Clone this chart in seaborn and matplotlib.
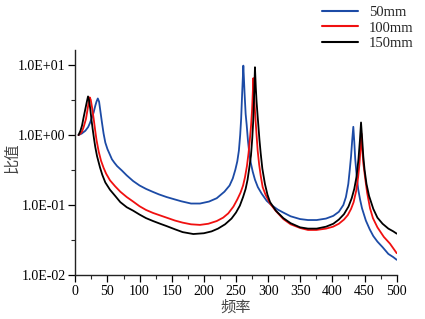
import numpy as np
import pandas as pd
import matplotlib
matplotlib.use("Agg")
import matplotlib.pyplot as plt
import seaborn as sns
from matplotlib.ticker import FixedLocator, FuncFormatter, MultipleLocator

# ---- data ----
series_names = ["50mm", "100mm", "150mm"]
series_colors = ["#1c4ba6", "#f01010", "#000000"]

f_50 = [5, 10, 15.6, 20, 23, 26, 28.5, 31, 33, 35, 37, 39, 41.5, 44, 46.7, 50, 54, 57, 61, 65,
        72.6, 80, 90, 100, 110, 120, 130, 142, 155, 165, 180, 194, 208, 220, 232, 240, 245,
        249, 252, 254.5, 256.5, 258, 259.6, 260.6, 261.4, 262.3, 263.3, 265, 266.6, 268.5,
        270.7, 273, 276, 279.5, 284, 290, 297.7, 305, 315, 323.6, 335, 349.6, 362, 375.5,
        390, 401.4, 410, 417, 421, 424.7, 427, 429, 430.8, 432.5, 434, 435.5, 437.6, 440,
        443, 446, 452, 458, 463.6, 470, 478, 487, 494.7, 500]
v_50 = [1.0, 1.05, 1.15, 1.3, 1.5, 1.8, 2.1, 2.6, 3.0, 3.33, 3.0, 2.2, 1.5, 1.05, 0.78, 0.63,
        0.52, 0.45, 0.4, 0.36, 0.31, 0.265, 0.22, 0.19, 0.17, 0.155, 0.142, 0.13, 0.12,
        0.113, 0.105, 0.105, 0.112, 0.125, 0.155, 0.19, 0.24, 0.32, 0.42, 0.6, 1.0, 1.7,
        4.0, 6.5, 9.8, 6.5, 4.0, 2.0, 1.4, 0.85, 0.55, 0.4, 0.3, 0.23, 0.18, 0.145, 0.115,
        0.1, 0.086, 0.078, 0.069, 0.063, 0.061, 0.061, 0.064, 0.07, 0.08, 0.1, 0.13, 0.2,
        0.32, 0.5, 0.85, 1.31, 0.8, 0.45, 0.27, 0.17, 0.12, 0.09, 0.06, 0.045, 0.036, 0.03,
        0.025, 0.02, 0.018, 0.0165]

f_100 = [5, 8, 10.4, 13, 16.6, 19, 21, 22.4, 24, 26, 28.6, 31, 33, 36.4, 40, 44, 48, 54, 62,
         70, 80, 90, 100, 110, 121, 132, 142, 155, 167, 180, 194, 207, 220, 230, 238, 246,
         252, 257, 261, 264, 267, 269.5, 271.5, 273.5, 275, 276, 277, 278, 279, 280.5, 282,
         283.7, 286, 288.5, 291.5, 296, 303, 312, 323.6, 335, 349.6, 362, 375, 390, 401,
         410, 418, 424, 429, 433, 437, 440, 442, 443.5, 445, 446.3, 448, 451, 454, 458.5,
         463, 470, 480, 489.6, 500]
v_100 = [1.0, 1.05, 1.12, 1.3, 1.7, 2.3, 3.0, 3.45, 3.2, 2.5, 1.7, 1.15, 0.85, 0.58, 0.43,
         0.34, 0.28, 0.225, 0.185, 0.155, 0.13, 0.112, 0.096, 0.085, 0.077, 0.071, 0.066,
         0.06, 0.056, 0.053, 0.052, 0.054, 0.059, 0.066, 0.076, 0.095, 0.12, 0.15, 0.19,
         0.25, 0.36, 0.55, 0.85, 1.4, 2.3, 3.8, 6.5, 4.0, 2.6, 1.6, 1.0, 0.6, 0.38, 0.26,
         0.18, 0.14, 0.105, 0.082, 0.063, 0.053, 0.047, 0.044, 0.044, 0.046, 0.049, 0.054,
         0.062, 0.072, 0.088, 0.11, 0.16, 0.25, 0.38, 0.6, 1.05, 0.65, 0.4, 0.24, 0.15,
         0.09, 0.065, 0.048, 0.035, 0.028, 0.0205]

f_150 = [5, 8, 10.4, 13, 15.6, 18, 19.8, 21.5, 23.3, 25, 27, 29, 31, 33.8, 38.4, 42, 46.7,
         54, 62, 70, 80, 90, 100, 110, 121, 132, 142, 155, 167, 183.6, 200, 212, 222, 233,
         243, 250, 256, 261, 265, 268, 270.5, 273.3, 275.3, 276.8, 278, 279.5, 280.8, 282,
         283.4, 284.7, 286.5, 288.4, 291, 295, 299, 303, 312, 323.6, 335, 349.6, 362, 375.5,
         390, 401.4, 410, 418, 425, 430, 434, 437.7, 440.5, 442.8, 444.5, 446.2, 448, 450,
         453, 457, 463.6, 470, 478, 487, 494.7, 500]
v_150 = [1.0, 1.15, 1.36, 1.8, 2.35, 3.0, 3.56, 3.1, 2.35, 1.7, 1.22, 0.9, 0.68, 0.5, 0.345,
         0.27, 0.21, 0.165, 0.135, 0.11, 0.093, 0.083, 0.073, 0.065, 0.059, 0.054, 0.05,
         0.045, 0.041, 0.0385, 0.0395, 0.042, 0.046, 0.053, 0.064, 0.078, 0.098, 0.13, 0.17,
         0.23, 0.33, 0.51, 0.9, 1.6, 3.2, 9.3, 4.8, 3.0, 2.0, 1.4, 0.85, 0.55, 0.33, 0.2,
         0.14, 0.11, 0.083, 0.065, 0.055, 0.048, 0.046, 0.046, 0.049, 0.054, 0.062, 0.074,
         0.095, 0.125, 0.17, 0.26, 0.45, 0.85, 1.51, 0.9, 0.5, 0.32, 0.2, 0.135, 0.088,
         0.066, 0.054, 0.046, 0.042, 0.039]

y_major = [0.01, 0.1, 1.0, 10.0]
x_major = [0, 50, 100, 150, 200, 250, 300, 350, 400, 450, 500]

x_label = "频率"
y_label = "比值"

# ---- build table ----
frames = []
for name, fs, vs in [("50mm", f_50, v_50), ("100mm", f_100, v_100), ("150mm", f_150, v_150)]:
    frames.append(pd.DataFrame({"f": fs, "v": vs, "series": name}))
df = pd.concat(frames, ignore_index=True)

sns.set_style("ticks")
plt.rcParams["font.family"] = ["Liberation Serif", "Noto Sans CJK SC"]
plt.rcParams["axes.linewidth"] = 1.0
plt.rcParams["xtick.direction"] = "out"
plt.rcParams["ytick.direction"] = "out"

fig = plt.figure(figsize=(4.25, 3.19), dpi=100)
ax = fig.add_axes([75.3 / 425, 1 - 275 / 319, (396.7 - 75.3) / 425, (275 - 50) / 319])

sns.lineplot(data=df, x="f", y="v", hue="series", hue_order=series_names,
             palette=dict(zip(series_names, series_colors)), sort=False,
             estimator=None, linewidth=1.3, ax=ax)
for line in ax.get_lines():
    line.set_solid_joinstyle("round")

ax.set_yscale("log")
ax.set_xlim(0, 500)
ax.set_ylim(0.01, 16.4)

ax.xaxis.set_major_locator(FixedLocator(x_major))
ax.xaxis.set_minor_locator(MultipleLocator(25))
ax.yaxis.set_major_locator(FixedLocator(y_major))
ax.yaxis.set_minor_locator(FixedLocator([10 ** -1.5, 10 ** -0.5, 10 ** 0.5]))
ax.yaxis.set_major_formatter(FuncFormatter(lambda v, p: f"{v:.1E}"))
ax.yaxis.set_minor_formatter(FuncFormatter(lambda v, p: ""))

ax.tick_params(axis="both", which="major", length=5, width=0.9, labelsize=10,
               colors="black", pad=2)
ax.tick_params(axis="both", which="minor", length=3, width=0.8)

for s in ["top", "right"]:
    ax.spines[s].set_visible(False)
for s in ["left", "bottom"]:
    ax.spines[s].set_color("#222222")

ax.set_xlabel(x_label, fontsize=11, color="#444444", family=["Noto Sans CJK SC"])
ax.set_ylabel(y_label, fontsize=11, color="#444444", family=["Noto Sans CJK SC"])
ax.xaxis.set_label_coords(0.5, -0.105)
ax.yaxis.set_label_coords(-0.17, 0.52)

sns.move_legend(ax, "upper left", bbox_to_anchor=(322 / 425, 1 - 6 / 319),
                bbox_transform=fig.transFigure, frameon=False, title=None,
                fontsize=10.5, handlelength=2.5, handletextpad=0.7,
                labelspacing=0.15, borderpad=0, borderaxespad=0)
for line in ax.get_legend().get_lines():
    line.set_linewidth(1.5)

fig.savefig("out.png", dpi=100)
